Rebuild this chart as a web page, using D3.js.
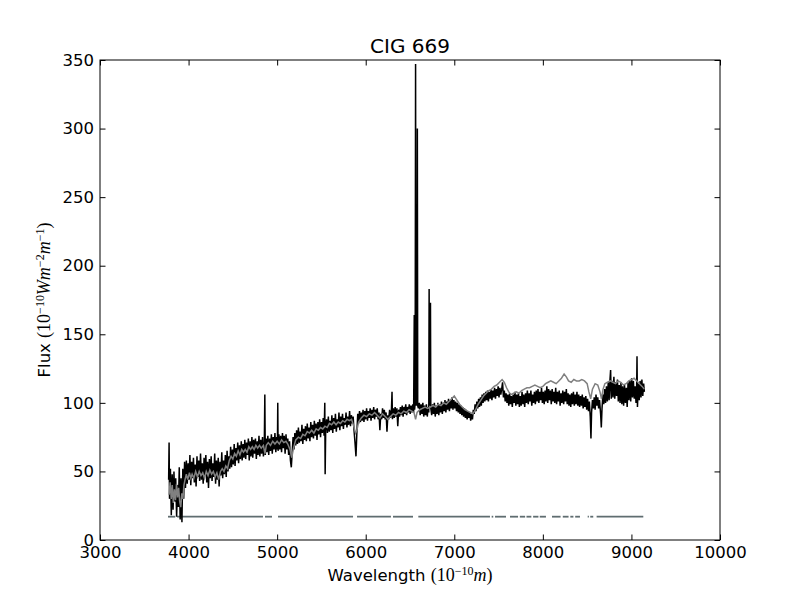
<!DOCTYPE html>
<html>
<head>
<meta charset="utf-8">
<script src="https://cdn.jsdelivr.net/npm/d3@7"></script>
<style>
    body { margin: 0; background: #ffffff; }
    svg text { font-family: "DejaVu Sans", sans-serif; fill: #000; }
</style>
</head>
<body>
<div id="chart"></div>
<script>
// CIG 669 spectrum: observed flux (black), model (gray), mask (slate)

const chartTitle = 'CIG 669';
const xTicks = [3000, 4000, 5000, 6000, 7000, 8000, 9000, 10000];
const yTicks = [0, 50, 100, 150, 200, 250, 300, 350];

// observed spectrum [wavelength, flux]
const observed = [
    [3775, 44], [3780, 71], [3785, 30], [3795, 52], [3805, 18], [3815, 48], [3825, 22], [3835, 50],
    [3845, 28], [3855, 45], [3865, 17], [3875, 40], [3885, 24], [3895, 53], [3905, 15], [3915, 45],
    [3925, 13], [3935, 52], [3945, 30], [3955, 57], [3965, 38], [3975, 58], [3985, 41], [3995, 56],
    [4005, 44], [4015, 62], [4025, 40], [4035, 57], [4045, 45], [4055, 60], [4065, 42], [4075, 55],
    [4085, 39], [4095, 61], [4105, 46], [4115, 58], [4125, 43], [4135, 63], [4145, 44], [4155, 56],
    [4165, 41], [4175, 60], [4185, 47], [4195, 62], [4205, 42], [4215, 57], [4225, 38], [4235, 59],
    [4245, 45], [4255, 61], [4265, 43], [4275, 56], [4285, 46], [4295, 63], [4305, 41], [4315, 58],
    [4325, 44], [4335, 60], [4345, 39], [4355, 57], [4365, 47], [4375, 64], [4385, 45], [4395, 58],
    [4405, 48], [4415, 62], [4425, 46], [4435, 65], [4445, 50], [4455, 61], [4465, 52], [4475, 68],
    [4485, 53], [4495, 66], [4505, 55], [4515, 70], [4525, 54], [4535, 67], [4545, 58], [4555, 71],
    [4565, 56], [4575, 69], [4585, 59], [4595, 72], [4605, 58], [4615, 70], [4625, 60], [4635, 73],
    [4645, 59], [4655, 71], [4665, 62], [4675, 74], [4685, 58], [4695, 72], [4705, 61], [4715, 75],
    [4725, 60], [4735, 73], [4745, 63], [4755, 74], [4765, 59], [4775, 72], [4785, 62], [4795, 76],
    [4805, 61], [4815, 73], [4825, 63], [4835, 75], [4845, 61], [4855, 70], [4861, 106], [4866, 62],
    [4875, 74], [4885, 64], [4895, 76], [4905, 62], [4915, 74], [4925, 65], [4935, 77], [4945, 63],
    [4955, 75], [4965, 66], [4975, 78], [4985, 64], [4995, 75], [5003, 66], [5007, 100], [5011, 65],
    [5020, 77], [5030, 66], [5040, 76], [5050, 64], [5060, 78], [5070, 67], [5080, 76], [5090, 63],
    [5100, 77], [5110, 66], [5120, 74], [5130, 62], [5140, 72], [5150, 58], [5160, 53], [5170, 64],
    [5180, 75], [5190, 66], [5200, 78], [5210, 69], [5220, 80], [5230, 70], [5240, 82], [5250, 71],
    [5260, 79], [5270, 72], [5280, 84], [5290, 70], [5300, 81], [5310, 73], [5320, 83], [5330, 72],
    [5340, 85], [5350, 74], [5360, 82], [5370, 72], [5380, 86], [5390, 75], [5400, 84], [5410, 74],
    [5420, 87], [5430, 76], [5440, 85], [5450, 73], [5460, 86], [5470, 77], [5480, 88], [5490, 75],
    [5500, 86], [5510, 78], [5520, 89], [5530, 76], [5538, 100], [5542, 48], [5548, 80], [5558, 88],
    [5568, 78], [5578, 90], [5588, 79], [5598, 87], [5608, 80], [5618, 91], [5628, 78], [5638, 89],
    [5648, 81], [5658, 92], [5668, 79], [5678, 88], [5688, 82], [5698, 93], [5708, 80], [5718, 90],
    [5728, 83], [5738, 92], [5748, 81], [5758, 89], [5768, 84], [5778, 93], [5788, 82], [5798, 90],
    [5808, 84], [5818, 94], [5828, 83], [5838, 91], [5848, 85], [5858, 90], [5868, 80], [5878, 72],
    [5890, 61], [5900, 78], [5910, 92], [5920, 85], [5930, 94], [5940, 86], [5950, 93], [5960, 87],
    [5970, 95], [5980, 86], [5990, 94], [6000, 88], [6010, 96], [6020, 87], [6030, 94], [6040, 89],
    [6050, 96], [6060, 87], [6070, 95], [6080, 89], [6090, 97], [6100, 88], [6110, 95], [6120, 90],
    [6130, 96], [6140, 88], [6150, 93], [6160, 80], [6170, 92], [6180, 88], [6190, 96], [6200, 89],
    [6210, 95], [6220, 88], [6230, 93], [6240, 79], [6250, 91], [6260, 88], [6270, 95], [6280, 89],
    [6290, 94], [6297, 108], [6302, 88], [6312, 96], [6322, 89], [6332, 97], [6342, 90], [6352, 96],
    [6362, 83], [6372, 95], [6382, 90], [6392, 97], [6402, 91], [6412, 98], [6422, 90], [6432, 97],
    [6442, 92], [6452, 99], [6462, 91], [6472, 97], [6482, 93], [6492, 99], [6502, 92], [6512, 98],
    [6522, 93], [6532, 99], [6541, 93], [6548, 164], [6552, 95], [6558, 100], [6563, 347], [6567, 105],
    [6572, 98], [6579, 102], [6583, 300], [6587, 98], [6595, 96], [6605, 100], [6615, 91], [6625, 99],
    [6635, 92], [6645, 100], [6655, 90], [6665, 98], [6675, 91], [6685, 99], [6695, 90], [6705, 97],
    [6712, 93], [6716, 183], [6720, 100], [6727, 98], [6731, 173], [6735, 96], [6745, 91], [6755, 99],
    [6765, 92], [6775, 100], [6785, 90], [6795, 98], [6805, 92], [6815, 100], [6825, 91], [6835, 99],
    [6845, 93], [6855, 101], [6865, 92], [6875, 100], [6885, 94], [6895, 102], [6905, 93], [6915, 101],
    [6925, 95], [6935, 103], [6945, 94], [6955, 102], [6965, 96], [6975, 104], [6985, 95], [6995, 102],
    [7005, 96], [7015, 101], [7025, 94], [7035, 100], [7045, 93], [7055, 99], [7065, 92], [7075, 98],
    [7085, 91], [7095, 97], [7105, 90], [7115, 96], [7125, 89], [7135, 95], [7145, 88], [7155, 94],
    [7165, 89], [7175, 93], [7185, 87], [7195, 92], [7205, 88], [7215, 95], [7225, 92], [7235, 99],
    [7245, 94], [7255, 101], [7265, 96], [7275, 103], [7285, 97], [7295, 104], [7305, 98], [7315, 106],
    [7325, 100], [7335, 107], [7345, 101], [7355, 108], [7365, 102], [7375, 109], [7385, 101], [7395, 108],
    [7405, 103], [7415, 110], [7425, 102], [7435, 109], [7445, 104], [7455, 111], [7465, 103], [7475, 110],
    [7485, 105], [7495, 112], [7505, 104], [7515, 111], [7525, 106], [7535, 110], [7545, 115], [7555, 104],
    [7565, 109], [7575, 101], [7585, 107], [7595, 100], [7605, 106], [7615, 98], [7625, 107], [7635, 99],
    [7645, 105], [7655, 97], [7665, 106], [7675, 100], [7685, 108], [7695, 98], [7705, 106], [7715, 99],
    [7725, 107], [7735, 97], [7745, 105], [7755, 98], [7765, 108], [7775, 99], [7785, 106], [7795, 97],
    [7805, 107], [7815, 100], [7825, 109], [7835, 99], [7845, 107], [7855, 101], [7865, 109], [7875, 98],
    [7885, 106], [7895, 100], [7905, 108], [7915, 99], [7925, 109], [7935, 101], [7945, 110], [7955, 100],
    [7965, 108], [7975, 102], [7985, 111], [7995, 100], [8005, 108], [8015, 99], [8025, 109], [8035, 101],
    [8045, 112], [8055, 100], [8065, 110], [8075, 102], [8085, 109], [8095, 99], [8105, 110], [8115, 101],
    [8125, 108], [8135, 100], [8145, 111], [8155, 99], [8165, 108], [8175, 101], [8185, 109], [8195, 98],
    [8205, 107], [8215, 100], [8225, 109], [8235, 99], [8245, 108], [8255, 101], [8265, 110], [8275, 99],
    [8285, 107], [8295, 98], [8305, 106], [8315, 97], [8325, 107], [8335, 99], [8345, 108], [8355, 98],
    [8365, 106], [8375, 99], [8385, 108], [8395, 98], [8405, 106], [8415, 97], [8425, 105], [8435, 98],
    [8445, 106], [8455, 96], [8465, 104], [8475, 97], [8485, 105], [8495, 95], [8505, 103], [8515, 94],
    [8525, 101], [8535, 90], [8543, 74], [8550, 93], [8560, 102], [8570, 96], [8580, 104], [8590, 95],
    [8600, 106], [8610, 98], [8620, 104], [8630, 96], [8640, 102], [8652, 92], [8660, 82], [8668, 96],
    [8678, 106], [8688, 99], [8698, 110], [8708, 100], [8718, 112], [8728, 101], [8738, 115], [8748, 102],
    [8758, 117], [8765, 124], [8772, 103], [8782, 116], [8792, 104], [8802, 119], [8812, 103], [8822, 115],
    [8832, 105], [8842, 117], [8852, 101], [8862, 113], [8872, 100], [8882, 115], [8892, 99], [8902, 112],
    [8912, 98], [8922, 113], [8932, 100], [8942, 111], [8952, 97], [8962, 115], [8972, 102], [8982, 116],
    [8992, 101], [9002, 118], [9012, 104], [9022, 116], [9032, 103], [9042, 112], [9052, 100], [9058, 104],
    [9063, 134], [9068, 97], [9078, 114], [9088, 102], [9098, 116], [9108, 104], [9118, 117], [9128, 105],
    [9138, 114], [9146, 108]
];

// model spectrum [wavelength, flux]
const model = [
    [3780, 33], [3792, 42], [3804, 30], [3816, 40], [3828, 27], [3840, 37], [3852, 29], [3864, 41],
    [3876, 31], [3888, 38], [3900, 28], [3912, 24], [3924, 34], [3936, 30], [3948, 40], [3960, 44],
    [3975, 48], [3990, 44], [4010, 49], [4025, 45], [4040, 48], [4060, 45], [4080, 50], [4100, 46],
    [4120, 50], [4140, 47], [4160, 49], [4180, 45], [4200, 50], [4220, 47], [4240, 51], [4260, 48],
    [4280, 50], [4300, 46], [4320, 49], [4340, 44], [4360, 50], [4380, 52], [4400, 50], [4420, 54],
    [4440, 52], [4460, 58], [4480, 61], [4500, 59], [4520, 63], [4540, 61], [4560, 65], [4580, 62],
    [4600, 66], [4620, 64], [4640, 66], [4660, 64], [4680, 68], [4700, 66], [4720, 68], [4740, 66],
    [4760, 69], [4780, 67], [4800, 69], [4820, 67], [4845, 69], [4862, 63], [4878, 69], [4900, 71],
    [4925, 69], [4950, 72], [4975, 70], [5000, 72], [5025, 70], [5050, 73], [5075, 71], [5100, 72],
    [5120, 70], [5145, 66], [5165, 60], [5185, 67], [5210, 73], [5240, 75], [5265, 74], [5290, 77],
    [5315, 76], [5340, 79], [5365, 78], [5390, 80], [5415, 78], [5440, 81], [5465, 80], [5490, 82],
    [5515, 81], [5540, 83], [5565, 82], [5590, 85], [5615, 84], [5640, 86], [5665, 84], [5690, 86],
    [5715, 85], [5740, 87], [5765, 86], [5790, 88], [5815, 87], [5840, 88], [5865, 83], [5885, 78],
    [5900, 80], [5920, 86], [5950, 89], [5980, 91], [6010, 90], [6040, 92], [6070, 91], [6100, 93],
    [6130, 91], [6160, 89], [6190, 92], [6220, 90], [6250, 88], [6280, 90], [6310, 92], [6340, 91],
    [6370, 93], [6400, 92], [6430, 94], [6460, 93], [6490, 95], [6520, 94], [6545, 93], [6563, 88],
    [6580, 93], [6610, 95], [6640, 96], [6670, 97], [6700, 96], [6730, 97], [6760, 98], [6790, 97],
    [6820, 99], [6850, 98], [6880, 100], [6910, 99], [6940, 101], [6970, 103], [7000, 105], [7030, 102],
    [7060, 99], [7090, 97], [7120, 95], [7150, 94], [7180, 93], [7210, 92], [7240, 95], [7270, 99],
    [7300, 102], [7330, 105], [7360, 107], [7390, 109], [7420, 110], [7450, 112], [7480, 113], [7510, 115],
    [7540, 117], [7565, 115], [7590, 111], [7615, 108], [7640, 106], [7670, 107], [7700, 108], [7730, 107],
    [7760, 109], [7790, 110], [7820, 111], [7850, 111], [7880, 112], [7910, 113], [7940, 112], [7970, 111],
    [8000, 112], [8030, 114], [8060, 115], [8090, 116], [8120, 115], [8150, 114], [8180, 116], [8210, 118],
    [8240, 121], [8265, 119], [8290, 116], [8320, 115], [8350, 117], [8380, 116], [8410, 116], [8440, 117],
    [8470, 116], [8500, 114], [8520, 108], [8540, 103], [8560, 110], [8590, 114], [8620, 113], [8645, 108],
    [8662, 103], [8680, 110], [8700, 114], [8730, 115], [8760, 116], [8790, 115], [8820, 114], [8850, 116],
    [8880, 115], [8910, 113], [8940, 114], [8970, 116], [9000, 117], [9030, 118], [9060, 116], [9090, 114],
    [9120, 112], [9145, 110]
];

// good-pixel mask, drawn as a flat line at maskLevel
const maskLevel = 17;
const maskSegments = [
    [3768, 3850], [3870, 4840], [4863, 4942], [5010, 5857], [5902, 6285], [6308, 6534],
    [6594, 7403], [7422, 7440], [7460, 7584], [7629, 7720], [7740, 7800], [7815, 7870],
    [7890, 7950], [7965, 8035], [8103, 8200], [8225, 8290], [8310, 8345], [8365, 8419],
    [8506, 8520], [8535, 8569], [8607, 9134]
];

// Layout (matplotlib classic figure proportions)
const width = 800, height = 600;
const margin = { top: 60, right: 80, bottom: 60, left: 100 };
const plotW = width - margin.left - margin.right;
const plotH = height - margin.top - margin.bottom;

const svg = d3.select('#chart')
    .append('svg')
    .attr('width', width)
    .attr('height', height);

const x = d3.scaleLinear().domain([3000, 10000]).range([margin.left, margin.left + plotW]);
const y = d3.scaleLinear().domain([0, 350]).range([margin.top + plotH, margin.top]);

svg.append('clipPath').attr('id', 'plot-clip')
    .append('rect')
    .attr('x', margin.left).attr('y', margin.top)
    .attr('width', plotW).attr('height', plotH);

const plot = svg.append('g').attr('clip-path', 'url(#plot-clip)');

const line = d3.line().x(d => x(d[0])).y(d => y(d[1]));

// mask segments
plot.append('g')
    .selectAll('path')
    .data(maskSegments)
    .enter().append('path')
    .attr('d', d => line([[d[0], maskLevel], [d[1], maskLevel]]))
    .attr('fill', 'none')
    .attr('stroke', '#5f6d70')
    .attr('stroke-width', 1.8);

// observed spectrum
plot.append('path')
    .datum(observed)
    .attr('d', line)
    .attr('fill', 'none')
    .attr('stroke', '#000000')
    .attr('stroke-width', 1.5);

// model spectrum
plot.append('path')
    .datum(model)
    .attr('d', line)
    .attr('fill', 'none')
    .attr('stroke', '#808080')
    .attr('stroke-width', 1.5);

// Axes: inward ticks on all four sides
const tickLen = 5.5;
const fontSize = '16.5px';

function styleAxis(g) {
    g.attr('font-family', '"DejaVu Sans", sans-serif').attr('font-size', fontSize);
    g.select('.domain').remove();
    g.selectAll('.tick line').attr('stroke', '#000').attr('stroke-width', 1);
}

svg.append('g')
    .attr('transform', `translate(0,${margin.top + plotH})`)
    .call(d3.axisBottom(x).tickValues(xTicks).tickSize(-tickLen).tickPadding(6).tickFormat(d3.format('d')))
    .call(styleAxis);

svg.append('g')
    .attr('transform', `translate(0,${margin.top})`)
    .call(d3.axisTop(x).tickValues(xTicks).tickSize(-tickLen).tickFormat(''))
    .call(styleAxis);

svg.append('g')
    .attr('transform', `translate(${margin.left},0)`)
    .call(d3.axisLeft(y).tickValues(yTicks).tickSize(-tickLen).tickPadding(6).tickFormat(d3.format('d')))
    .call(styleAxis);

svg.append('g')
    .attr('transform', `translate(${margin.left + plotW},0)`)
    .call(d3.axisRight(y).tickValues(yTicks).tickSize(-tickLen).tickFormat(''))
    .call(styleAxis);

// frame
svg.append('rect')
    .attr('x', margin.left).attr('y', margin.top)
    .attr('width', plotW).attr('height', plotH)
    .attr('fill', 'none')
    .attr('stroke', '#000')
    .attr('stroke-width', 1);

// Title
svg.append('text')
    .attr('x', margin.left + plotW / 2)
    .attr('y', 53)
    .attr('text-anchor', 'middle')
    .attr('font-size', '20px')
    .text(chartTitle);

// Mathtext-like labels built from tspans
const serif = '"Liberation Serif", "DejaVu Serif", serif';
const supShift = 6;

function mathLabel(textSel, parts) {
    let raised = false;
    parts.forEach(p => {
        const t = textSel.append('tspan').text(p.t);
        if (p.serif) t.attr('font-family', serif).attr('font-size', '18px');
        if (p.italic) t.attr('font-style', 'italic');
        if (p.sup) {
            t.attr('font-size', '12px');
            if (!raised) t.attr('dy', -supShift);
            raised = true;
        } else if (raised) {
            t.attr('dy', supShift);
            raised = false;
        }
    });
}

const xLabel = svg.append('text')
    .attr('x', margin.left + plotW / 2)
    .attr('y', 581)
    .attr('text-anchor', 'middle')
    .attr('font-size', '16.5px');
mathLabel(xLabel, [
    { t: 'Wavelength ' },
    { t: '(10', serif: true },
    { t: '\u221210', serif: true, sup: true },
    { t: 'm', serif: true, italic: true },
    { t: ')', serif: true }
]);

const yLabel = svg.append('text')
    .attr('transform', `translate(50,${margin.top + plotH / 2}) rotate(-90)`)
    .attr('text-anchor', 'middle')
    .attr('font-size', '16.5px');
mathLabel(yLabel, [
    { t: 'Flux ' },
    { t: '(10', serif: true },
    { t: '\u221210', serif: true, sup: true },
    { t: 'Wm', serif: true, italic: true },
    { t: '\u22122', serif: true, sup: true },
    { t: 'm', serif: true, italic: true },
    { t: '\u22121', serif: true, sup: true },
    { t: ')', serif: true }
]);
</script>
</body>
</html>
